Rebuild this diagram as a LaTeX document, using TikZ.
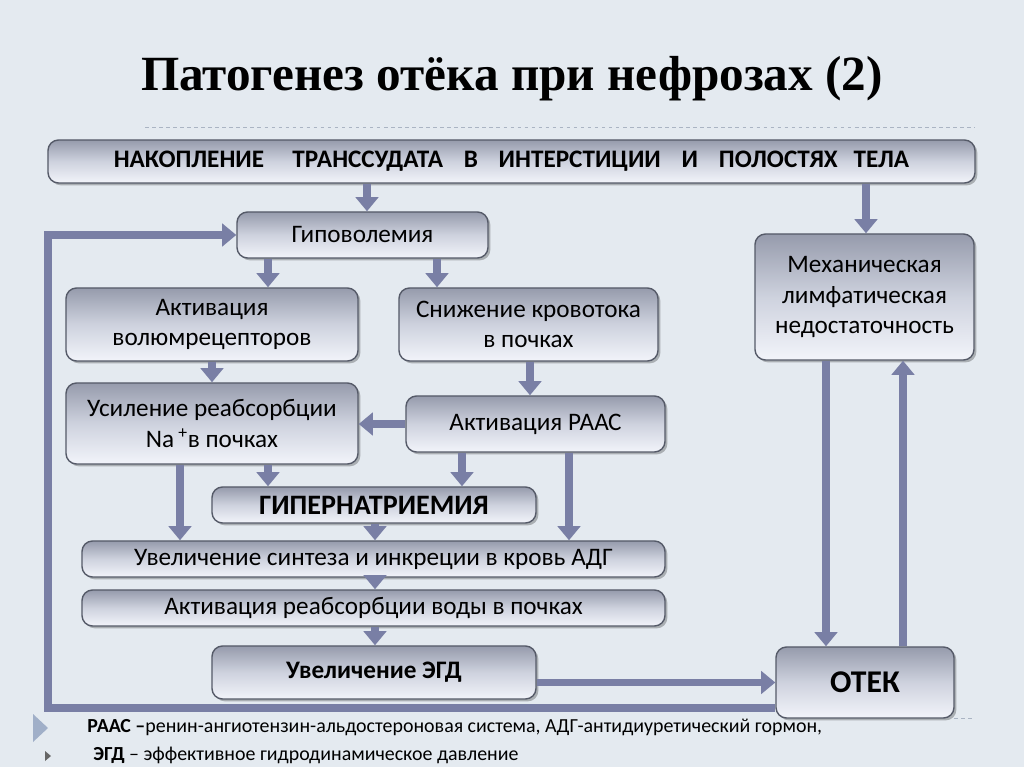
\documentclass[tikz,border=0pt]{standalone}
\usepackage{fontspec}
\setmainfont{Carlito}
\newfontfamily\titlefont{Liberation Serif}
\usetikzlibrary{arrows.meta,shadows}
\definecolor{slidebg}{RGB}{228,234,240}
\definecolor{arrowblue}{RGB}{121,127,165}
\definecolor{boxedge}{RGB}{85,90,104}
\definecolor{boxdark}{RGB}{150,155,172}
\definecolor{boxmid}{RGB}{206,210,222}
\definecolor{boxlight}{RGB}{242,244,250}
\definecolor{rulegray}{RGB}{170,180,195}
\definecolor{bulletblue}{RGB}{160,175,200}

\begin{document}
\begin{tikzpicture}[x=0.03cm, y=-0.03cm,
  box/.style={draw=boxedge, line width=1.2pt, rounded corners=9pt,
    top color=boxdark, bottom color=boxlight, middle color=boxmid,
    drop shadow={shadow xshift=2pt, shadow yshift=-2pt, fill=black, opacity=0.25},
    align=center, inner sep=2pt, font=\fontsize{21.5}{26}\selectfont},
  arr/.style={draw=arrowblue, line width=6pt, -{Triangle[width=19pt,length=12pt]}},
  legend/.style={anchor=west, inner sep=1pt, font=\fontsize{17}{19}\selectfont}]
  \useasboundingbox (0,0) rectangle (1024,767);
  \fill[slidebg] (0,0) rectangle (1024,767);
  % Title
  \node[font=\titlefont\bfseries\fontsize{42}{46}\selectfont] (title) at (512,79) {Патогенез отёка при нефрозах (2)};
  \draw[rulegray, dashed, line width=0.6pt] (145,127) -- (975,127);
  \draw[rulegray, dashed, line width=0.6pt] (954,718) -- (975,718);
  % Boxes
  \node[box, minimum width=27.81cm, minimum height=1.29cm, font=\bfseries\fontsize{21.5}{25}\selectfont] (accum) at (511.5,161.5)
    {НАКОПЛЕНИЕ\hspace{0.9em} ТРАНССУДАТА\hspace{0.6em} В\hspace{0.6em} ИНТЕРСТИЦИИ\hspace{0.6em} И\hspace{0.6em} ПОЛОСТЯХ\hspace{0.4em} ТЕЛА};
  \node[box, minimum width=7.53cm, minimum height=1.38cm] (hypo) at (362.5,235) {Гиповолемия};
  \node[box, minimum width=8.76cm, minimum height=2.19cm] (volum) at (212,324.5) {Активация\\волюмрецепторов};
  \node[box, minimum width=7.77cm, minimum height=2.19cm] (flow) at (528.5,324.5) {Снижение кровотока\\в почках};
  \node[box, minimum width=6.57cm, minimum height=3.78cm] (lymph) at (864.5,297) {Механическая\\лимфатическая\\недостаточность};
  \node[box, minimum width=8.76cm, minimum height=2.43cm] (nareab) at (212,423.5) {Усиление реабсорбции\\Na\,\textsuperscript{+}в почках};
  \node[box, minimum width=7.77cm, minimum height=1.68cm] (raas) at (535.5,424) {Активация РААС};
  \node[box, minimum width=9.72cm, minimum height=1.08cm, font=\bfseries\fontsize{24}{28}\selectfont] (hyper) at (374,505) {ГИПЕРНАТРИЕМИЯ};
  \node[box, minimum width=17.49cm, minimum height=1.08cm] (adh) at (373.5,559) {Увеличение синтеза и инкреции в кровь АДГ};
  \node[box, minimum width=17.49cm, minimum height=1.08cm] (water) at (373.5,608) {Активация реабсорбции воды в почках};
  \node[box, minimum width=9.72cm, minimum height=1.59cm, font=\bfseries\fontsize{21.5}{25}\selectfont] (egd) at (374,672.5) {Увеличение ЭГД};
  \node[box, minimum width=5.34cm, minimum height=2.13cm, font=\bfseries\fontsize{27}{30}\selectfont] (otek) at (865,682.5) {ОТЕК};
  % Arrow columns
  \foreach \n/\x in {a/367,b/866,c/268,d/437,e/212,f/530,g/180,h/462,i/569,j/375,k/826,l/903}
    \coordinate (col\n) at (\x,0);
  \coordinate (loopcorner) at (48,708);
  % Arrows
  \draw[arr] (accum.south -| cola) -- (hypo.north -| cola);
  \draw[arr] (accum.south -| colb) -- (lymph.north -| colb);
  \draw[arr] (hypo.south -| colc) -- (volum.north -| colc);
  \draw[arr] (hypo.south -| cold) -- (flow.north -| cold);
  \draw[arr] (volum.south -| cole) -- (nareab.north -| cole);
  \draw[arr] (flow.south -| colf) -- (raas.north -| colf);
  \draw[arr] (raas.west) -- (nareab.east |- raas.west);
  \draw[arr] (nareab.south -| colc) -- (hyper.north -| colc);
  \draw[arr] (nareab.south -| colg) -- (adh.north -| colg);
  \draw[arr] (raas.south -| colh) -- (hyper.north -| colh);
  \draw[arr] (raas.south -| coli) -- (adh.north -| coli);
  \draw[arr] (hyper.south -| colj) -- (adh.north -| colj);
  \draw[arr] (adh.south -| colj) -- (water.north -| colj);
  \draw[arr] (water.south -| colj) -- (egd.north -| colj);
  \draw[arr] (egd.east |- otek.west) -- (otek.west);
  \draw[arr] (lymph.south -| colk) -- (otek.north -| colk);
  \draw[arr] (otek.north -| coll) -- (lymph.south -| coll);
  \draw[arr, line width=7pt] (otek.west |- loopcorner) -- (loopcorner) |- (hypo.west);
  % Legend
  \fill[bulletblue] (33,714) -- (48,728) -- (33,742) -- cycle;
  \fill[black!60] (45,751) -- (51,756) -- (45,761) -- cycle;
  \node[legend] (legraas) at (86,727) {\textbf{РААС –}ренин-ангиотензин-альдостероновая система, АДГ-антидиуретический гормон,};
  \node[legend] (legegd) at (92,755) {\textbf{ЭГД} – эффективное гидродинамическое давление};
\end{tikzpicture}
\end{document}
